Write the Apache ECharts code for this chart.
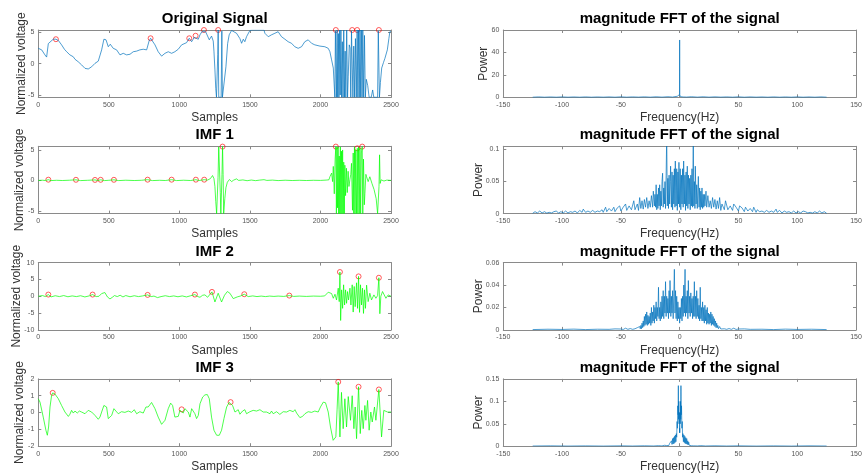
<!DOCTYPE html>
<html>
<head>
<meta charset="utf-8">
<script src="https://cdn.jsdelivr.net/npm/echarts@6/dist/echarts.min.js"></script>
<style>
  html, body { margin: 0; padding: 0; background: #ffffff; }
  #chart { width: 865px; height: 475px; }
</style>
</head>
<body>
<div id="chart"></div>
<script>
// ---------- tick labels and axis ranges ----------
const sampleTicks = [0, 500, 1000, 1500, 2000, 2500];
const freqTicks = [-150, -100, -50, 0, 50, 100, 150];
const origTicks = [-5, 0, 5];
const imf1Ticks = [-5, 0, 5];
const imf2Ticks = [-10, -5, 0, 5, 10];
const imf3Ticks = [-2, -1, 0, 1, 2];
const fftOrigTicks = [0, 20, 40, 60];
const fftImf1Ticks = [0, 0.05, 0.1];
const fftImf2Ticks = [0, 0.02, 0.04, 0.06];
const fftImf3Ticks = [0, 0.05, 0.1, 0.15];

const sampleRange = [0, 2500];
const freqRange = [-150, 150];
const origRange = [-5.37, 5.37];
const imf1Range = [-5.45, 5.6];
const imf2Range = [-10, 10];
const imf3Range = [-2, 2];
const fftOrigRange = [0, 60];
const fftImf1Range = [0, 0.105];
const fftImf2Range = [0, 0.06];
const fftImf3Range = [0, 0.15];

// ---------- time-domain signals: [sample, normalized voltage] ----------
const origSignal = [
  [0,2.45],[24,2.2],[47,1.4],[59,1.05],[65,1.3],[71,3.2],[83,3.5],[106,3.9],[125,3.9],[142,3.7],[165,3.0],[185,2.3],
  [201,1.9],[224,1.4],[235,1.6],[248,1.1],[260,0.7],[283,0.3],[307,-0.2],[331,-0.75],[354,-0.85],[378,-0.5],[402,0.05],
  [425,0.4],[437,0.3],[449,2.2],[465,3.9],[480,3.8],[496,2.7],[510,3.1],[520,3.0],[531,2.45],[555,2.2],[579,1.4],
  [602,1.65],[626,1.4],[650,1.5],[673,1.9],[697,2.0],[720,2.2],[744,2.3],[768,2.2],[785,3.6],[796,4.05],[803,3.8],
  [827,3.0],[850,1.9],[874,1.2],[898,1.65],[921,1.9],[945,1.65],[968,1.9],[992,2.3],[1016,3.0],[1027,2.7],[1051,3.35],
  [1070,4.05],[1087,3.5],[1105,4.2],[1115,4.45],[1134,3.9],[1146,4.6],[1160,5.1],[1174,5.37],[1186,5.1],[1193,4.85],
  [1212,3.8],[1220,4.0],[1228,4.4],[1240,3.6],[1245,2.0],[1252,-1.0],[1258,-4.0],[1263,-5.37],[1269,-5.37],[1272,1.5],
  [1275,5.37],[1279,-5.37],[1296,-5.37],[1301,5.2],[1305,-5.37],[1314,-5.37],[1330,-0.5],[1342,3.2],[1353,4.6],[1370,5.3],
  [1382,5.1],[1405,4.85],[1429,4.0],[1441,3.25],[1453,3.9],[1464,3.5],[1476,4.3],[1500,5.3],[1515,5.37],[1600,5.37],
  [1606,4.85],[1630,4.3],[1653,4.6],[1677,4.85],[1700,5.1],[1724,4.3],[1748,3.9],[1771,3.5],[1795,3.25],[1818,2.7],
  [1842,2.45],[1866,2.7],[1889,3.5],[1913,3.8],[1937,3.25],[1960,3.0],[1996,2.8],[2031,2.7],[2055,2.45],[2067,1.9],
  [2079,0.6],[2091,-0.7],[2102,-5.37],[2106,5.2],[2109,5.37],[2113,-5.37],[2118,5.37],[2122,-5.37],[2127,4.8],[2131,-5.37],
  [2136,5.37],[2140,-5.0],[2145,5.37],[2150,-5.37],[2155,3.5],[2160,-5.37],[2165,5.37],[2170,-5.37],[2175,2.0],[2180,-5.37],
  [2186,5.37],[2192,-5.37],[2197,-2.0],[2204,3.0],[2210,2.5],[2215,-5.37],[2220,5.2],[2225,5.37],[2230,-5.37],[2236,2.8],
  [2242,-5.37],[2248,4.0],[2254,-5.37],[2260,5.37],[2265,-5.37],[2270,5.37],[2275,-5.37],[2280,5.37],[2285,-5.37],
  [2290,5.37],[2295,-5.37],[2300,5.37],[2306,-5.37],[2312,4.5],[2318,-5.37],[2325,-2.5],[2335,-3.5],[2345,-5.37],
  [2360,-5.37],[2370,-4.2],[2378,-5.37],[2405,-5.37],[2410,5.2],[2414,5.37],[2418,-5.37],[2425,-3.0],[2434,-0.7],
  [2447,0.2],[2457,0.85],[2474,2.2],[2485,4.0],[2492,5.1],[2500,5.2]
];
const origPeaks = [[125,3.9],[796,4.05],[1070,4.05],[1115,4.45],[1174,5.37],[1275,5.37],[2109,5.37],[2225,5.37],[2260,5.37],[2414,5.37]];

const imf1Signal = [
  [0,0],[30,0.03],[50,-0.02],[71,0.12],[90,-0.03],[130,0.02],[170,-0.02],[220,0.03],[267,0.1],[300,-0.03],[350,0.02],
  [402,0.08],[420,-0.02],[442,0.1],[470,-0.03],[500,0.02],[536,0.1],[570,-0.03],[620,0.03],[680,-0.02],[730,0.02],
  [775,0.12],[810,-0.03],[860,0.02],[900,-0.02],[945,0.12],[980,-0.03],[1030,0.03],[1080,-0.02],[1117,0.12],[1140,-0.02],
  [1176,0.12],[1200,0.05],[1220,0.3],[1235,0.8],[1245,0.3],[1252,-1.0],[1258,-3.5],[1264,-5.45],[1269,-5.45],[1274,0.5],
  [1279,5.5],[1285,5.5],[1290,-2.0],[1294,-5.45],[1298,-5.45],[1302,1.0],[1306,5.55],[1310,1.0],[1314,-5.45],[1318,-5.45],
  [1322,-3.0],[1330,-1.2],[1340,-0.3],[1355,0.15],[1370,-0.2],[1385,0.05],[1405,0.25],[1420,0.0],[1450,0.08],[1480,-0.05],
  [1510,0.06],[1540,-0.04],[1570,0.05],[1600,0.12],[1620,0.0],[1660,0.05],[1700,-0.03],[1750,0.03],[1800,-0.02],
  [1850,0.02],[1900,-0.02],[1950,0.02],[2000,0.0],[2040,0.05],[2060,0.1],[2067,0.6],[2079,1.2],[2086,-0.2],[2091,2.3],
  [2098,-2.2],[2104,3.5],[2109,5.55],[2113,-5.45],[2117,5.5],[2121,-4.5],[2125,5.5],[2129,-5.45],[2133,4.0],[2137,-5.45],
  [2141,5.5],[2145,-5.45],[2149,4.8],[2153,-5.45],[2157,5.0],[2161,-5.45],[2165,3.0],[2169,-5.45],[2173,2.5],[2178,-2.5],
  [2184,2.0],[2190,-2.0],[2196,1.5],[2202,-1.0],[2209,0.2],[2215,1.0],[2220,2.8],[2227,-4.9],[2232,4.5],[2236,-5.45],
  [2241,5.5],[2245,-5.45],[2250,5.0],[2255,-5.45],[2261,5.27],[2265,-5.45],[2270,5.5],[2275,-5.45],[2280,5.3],[2285,-5.45],
  [2290,4.5],[2296,5.55],[2300,-5.45],[2305,3.5],[2311,-4.0],[2315,-2.2],[2322,1.0],[2327,0.6],[2338,-0.2],[2350,0.6],
  [2365,-0.5],[2380,-1.5],[2395,-3.0],[2405,-5.45],[2410,-5.45],[2415,-1.0],[2419,4.2],[2423,-0.5],[2430,0.1],[2450,-0.1],
  [2470,0.05],[2500,0.0]
];
const imf1Peaks = [[71,0.12],[267,0.1],[402,0.08],[442,0.1],[536,0.1],[775,0.12],[945,0.12],[1117,0.12],[1176,0.12],[1306,5.55],[2109,5.55],[2261,5.27],[2296,5.55]];

const imf2Signal = [
  [0,0],[30,0.2],[50,-0.1],[71,0.5],[90,-0.2],[120,0.15],[150,-0.1],[180,0.2],[210,-0.15],[240,0.1],[270,-0.1],[300,0.15],
  [330,-0.2],[360,0.1],[385,0.5],[410,-0.1],[430,0.0],[449,0.8],[472,1.1],[490,-0.2],[508,-0.8],[525,-0.3],[540,0.2],
  [560,-0.1],[580,0.3],[600,-0.2],[620,0.2],[650,-0.15],[680,0.15],[710,-0.1],[740,0.1],[775,0.4],[800,-0.1],[820,0.05],
  [845,-0.4],[870,-0.1],[900,0.15],[930,-0.1],[960,0.1],[990,-0.15],[1020,0.1],[1050,-0.2],[1080,0.15],[1110,0.5],
  [1130,-0.1],[1146,-0.3],[1165,0.3],[1181,0.4],[1200,-0.3],[1210,-0.8],[1231,1.3],[1252,-1.7],[1275,0.9],[1299,-1.7],
  [1320,0.3],[1340,1.4],[1358,0.9],[1382,-0.7],[1410,-0.2],[1435,0.1],[1460,0.6],[1488,-0.1],[1520,0.1],[1550,-0.1],
  [1580,0.05],[1610,-0.1],[1640,0.05],[1670,-0.05],[1700,0.05],[1740,-0.05],[1779,0.2],[1810,-0.05],[1850,0.05],
  [1900,-0.05],[1950,0.05],[2000,0.0],[2030,0.1],[2055,1.2],[2067,1.4],[2079,0.8],[2091,-0.6],[2103,0.6],[2114,-1.1],
  [2126,2.4],[2133,-1.6],[2138,7.2],[2143,-7.2],[2150,1.9],[2157,-3.6],[2164,3.4],[2171,-2.6],[2178,1.9],[2185,-2.1],
  [2192,1.4],[2199,-1.1],[2209,2.4],[2216,-2.6],[2225,3.4],[2232,-4.7],[2239,2.9],[2246,-3.1],[2256,4.0],[2263,-3.6],
  [2270,5.9],[2277,-4.8],[2284,3.4],[2291,-2.6],[2298,2.4],[2305,-5.1],[2312,1.9],[2319,-3.6],[2327,3.3],[2338,-1.6],
  [2350,0.9],[2362,-1.1],[2379,0.4],[2393,-0.6],[2405,0.2],[2414,5.5],[2421,-5.2],[2428,0.0],[2440,1.4],[2452,1.9],
  [2464,-0.6],[2480,0.4],[2500,0.0]
];
const imf2Peaks = [[71,0.5],[385,0.5],[775,0.4],[1110,0.5],[1231,1.3],[1460,0.6],[1779,0.2],[2138,7.2],[2270,5.9],[2414,5.5]];

const imf3Signal = [
  [0,0.82],[12,0.62],[35,-0.27],[54,-1.05],[64,-1.35],[73,-0.86],[83,0.33],[94,1.0],[102,1.17],[118,1.1],[142,0.82],
  [165,0.42],[189,0.03],[213,-0.23],[224,-0.1],[236,0.13],[248,-0.03],[260,0.09],[276,-0.03],[291,0.09],[307,0.03],
  [331,-0.07],[354,0.13],[378,0.03],[402,-0.17],[425,-0.4],[437,-0.27],[449,0.03],[465,0.42],[474,0.52],[484,0.33],
  [496,-0.36],[508,-0.46],[520,-0.17],[536,0.23],[550,0.09],[567,-0.07],[590,0.05],[614,0.01],[638,0.09],[661,0.01],
  [680,0.17],[697,-0.07],[720,0.05],[744,-0.03],[763,0.33],[779,0.33],[803,0.6],[827,0.23],[850,-0.27],[874,-0.7],
  [886,-0.72],[898,-0.46],[921,0.23],[938,0.56],[952,0.42],[968,-0.27],[980,-0.36],[992,-0.23],[1004,0.13],[1016,0.19],
  [1027,-0.03],[1039,0.23],[1051,0.28],[1063,0.03],[1075,-0.27],[1087,0.23],[1098,0.25],[1110,-0.07],[1122,-0.36],
  [1134,-0.17],[1146,0.52],[1165,0.92],[1181,1.05],[1198,1.07],[1212,0.82],[1228,-0.27],[1245,-1.05],[1264,-1.35],
  [1283,-1.35],[1299,-1.05],[1316,-0.36],[1335,0.33],[1353,0.6],[1363,0.62],[1377,0.42],[1394,0.03],[1405,-0.07],
  [1417,0.17],[1429,-0.1],[1448,0.09],[1464,0.17],[1476,-0.07],[1500,0.05],[1523,0.13],[1547,0.09],[1571,0.17],
  [1594,0.03],[1618,0.03],[1642,-0.07],[1653,0.09],[1665,-0.07],[1689,0.05],[1712,-0.11],[1736,0.05],[1760,0.03],
  [1783,0.13],[1807,0.05],[1819,0.17],[1831,-0.03],[1854,-0.3],[1873,-0.23],[1890,-0.07],[1913,0.05],[1937,0.01],
  [1960,0.09],[1984,0.03],[2000,0.33],[2020,0.62],[2036,0.58],[2055,0.03],[2071,-0.86],[2090,-1.65],[2100,-1.76],
  [2109,-1.45],[2118,0.2],[2126,1.82],[2132,0.2],[2138,-1.45],[2149,1.2],[2161,-0.96],[2173,0.82],[2185,-0.86],
  [2197,0.95],[2213,-0.46],[2225,1.0],[2237,-0.96],[2246,0.33],[2256,-1.55],[2270,1.53],[2282,-1.25],[2293,0.13],
  [2303,-0.96],[2315,0.42],[2322,-0.46],[2334,0.72],[2345,-1.05],[2357,0.03],[2367,-0.56],[2383,0.33],[2393,-0.46],
  [2414,1.37],[2433,-1.45],[2449,0.13],[2461,0.23],[2475,0.03],[2500,0.03]
];
const imf3Peaks = [[102,1.17],[1016,0.19],[1363,0.62],[2126,1.82],[2270,1.53],[2414,1.37]];

// ---------- magnitude spectra: [frequency Hz, power] ----------
const fftOrig = [
  [-125,0.1],[-120,0.35],[-115,0.1],[-110,0.3],[-105,0.1],[-100,0.35],[-95,0.1],[-90,0.3],[-85,0.1],[-80,0.35],
  [-75,0.1],[-70,0.3],[-65,0.12],[-60,0.35],[-55,0.1],[-50,0.4],[-45,0.12],[-40,0.35],[-35,0.15],[-30,0.4],[-25,0.12],
  [-20,0.45],[-15,0.15],[-10,0.5],[-6,0.2],[-4,0.6],[-3,0.3],[-2,0.9],[-1.5,0.4],[-1,1.3],[-0.6,0.6],[-0.3,1.8],
  [-0.1,2.5],[0,51.1],[0.1,2.5],[0.3,1.8],[0.6,0.6],[1,1.3],[1.5,0.4],[2,0.9],[3,0.3],[4,0.6],[6,0.2],[10,0.5],
  [15,0.15],[20,0.45],[25,0.12],[30,0.4],[35,0.15],[40,0.35],[45,0.12],[50,0.4],[55,0.1],[60,0.35],[65,0.12],[70,0.3],
  [75,0.1],[80,0.35],[85,0.1],[90,0.3],[95,0.1],[100,0.35],[105,0.1],[110,0.3],[115,0.1],[120,0.35],[125,0.1]
];

const fftImf1 = [
  [-125,0.0005],[-123,0.003],[-121,0.001],[-119,0.004],[-117,0.001],[-115,0.003],[-113,0.0008],[-111,0.002],[-109,0.001],
  [-107,0.003],[-105,0.004],[-103,0.001],[-101,0.003],[-99,0.001],[-97,0.004],[-95,0.001],[-93,0.003],[-91,0.002],
  [-89,0.004],[-87,0.001],[-85,0.005],[-83,0.002],[-82,0.007],[-80,0.002],[-78,0.004],[-76,0.002],[-74,0.005],[-72,0.002],
  [-70,0.004],[-68,0.003],[-66,0.006],[-65,0.002],[-63,0.01],[-62,0.003],[-60,0.008],[-58,0.004],[-56,0.01],[-55,0.003],
  [-53,0.009],[-51,0.012],[-50,0.004],[-48,0.01],[-46,0.015],[-45,0.005],[-43,0.012],[-41,0.006],[-39,0.02],[-38,0.006],
  [-36,0.015],[-35,0.005],[-34,0.025],[-33,0.008],[-32,0.02],[-31,0.007],[-30,0.022],[-29,0.01],[-28,0.025],[-27,0.008],
  [-26,0.02],[-25,0.01],[-24,0.028],[-23,0.01],[-22.4,0.035],[-21.5,0.012],[-21,0.03],[-20.5,0.01],[-20,0.045],
  [-19.5,0.006],[-19,0.03],[-18.5,0.008],[-18,0.04],[-17.5,0.012],[-17,0.045],[-16.5,0.006],[-16,0.035],[-15.5,0.012],
  [-15,0.05],[-14.5,0.063],[-14,0.01],[-13.5,0.04],[-13,0.015],[-12.5,0.05],[-12,0.008],[-11.5,0.06],[-11,0.12],
  [-10.5,0.012],[-10,0.055],[-9.5,0.008],[-9,0.06],[-8.5,0.015],[-8,0.05],[-7.7,0.074],[-7,0.01],[-6.5,0.065],[-6,0.006],
  [-5.5,0.06],[-5,0.015],[-4.5,0.07],[-4,0.01],[-3.7,0.082],[-3,0.012],[-2.5,0.07],[-2,0.005],[-1.5,0.065],[-1,0.015],
  [-0.6,0.08],[0,0.01],[0.5,0.07],[1,0.006],[1.5,0.06],[2,0.015],[2.5,0.07],[3,0.01],[3.4,0.082],[4,0.015],[4.5,0.06],
  [5,0.005],[5.5,0.065],[6,0.012],[6.5,0.074],[7,0.008],[7.5,0.06],[8,0.015],[8.5,0.055],[9,0.006],[9.5,0.06],[10,0.012],
  [10.5,0.07],[11,0.01],[11.6,0.12],[12,0.012],[12.5,0.05],[13,0.008],[13.3,0.074],[14,0.015],[14.5,0.045],[15,0.008],
  [15.9,0.058],[16.5,0.01],[17,0.04],[17.5,0.006],[18,0.035],[18.5,0.01],[19,0.04],[19.5,0.008],[20,0.03],[20.5,0.01],
  [21,0.03],[21.5,0.012],[22.4,0.035],[23,0.01],[24,0.028],[25,0.01],[26,0.02],[27,0.008],[28,0.025],[29,0.01],[30,0.022],
  [31,0.007],[32,0.02],[33,0.008],[34,0.025],[35,0.005],[36,0.015],[38,0.006],[39,0.02],[41,0.006],[43,0.012],[45,0.005],
  [46,0.015],[48,0.01],[50,0.004],[51,0.012],[53,0.009],[55,0.003],[56,0.01],[58,0.004],[60,0.008],[62,0.003],[63,0.01],
  [65,0.002],[66,0.006],[68,0.003],[70,0.004],[72,0.002],[74,0.005],[76,0.002],[78,0.004],[80,0.002],[82,0.007],
  [83,0.002],[85,0.005],[87,0.001],[89,0.004],[91,0.002],[93,0.003],[95,0.001],[97,0.004],[99,0.001],[101,0.003],
  [103,0.001],[105,0.004],[107,0.003],[109,0.001],[111,0.002],[113,0.0008],[115,0.003],[117,0.001],[119,0.004],
  [121,0.001],[123,0.003],[125,0.0005]
];

const fftImf2 = [
  [-125,0.0003],[-112,0.0006],[-100,0.0004],[-90,0.0007],[-80,0.0003],[-70,0.0006],[-60,0.0005],[-55,0.0009],[-50,0.0008],
  [-48,0.0004],[-46,0.0015],[-44,0.0005],[-42,0.0012],[-40,0.0005],[-38,0.001],[-36,0.002],[-35,0.0008],[-34,0.003],
  [-33.5,0.001],[-33,0.004],[-32.5,0.001],[-32,0.006],[-31.5,0.002],[-31,0.008],[-30.5,0.003],[-30,0.012],[-29.5,0.004],
  [-29,0.014],[-28.5,0.005],[-28,0.016],[-27.5,0.004],[-27,0.013],[-26.5,0.005],[-26,0.012],[-25.5,0.006],[-25,0.015],
  [-24.5,0.004],[-24,0.02],[-23.5,0.006],[-23,0.016],[-22.5,0.008],[-22,0.022],[-21.5,0.006],[-21,0.02],[-20.5,0.01],
  [-20,0.025],[-19.5,0.008],[-19,0.02],[-18.5,0.012],[-18,0.038],[-17.5,0.01],[-17,0.02],[-16.5,0.008],[-16,0.025],
  [-15.5,0.01],[-15,0.03],[-14.5,0.012],[-14,0.035],[-13.5,0.01],[-13,0.03],[-12.5,0.015],[-12,0.043],[-11.5,0.012],
  [-11,0.03],[-10.5,0.015],[-10,0.028],[-9.5,0.01],[-9,0.035],[-8.5,0.015],[-8.2,0.044],[-7.5,0.012],[-7,0.03],
  [-6.5,0.015],[-6,0.035],[-5.5,0.01],[-5,0.03],[-4.5,0.054],[-4,0.015],[-3.5,0.035],[-3,0.01],[-2.5,0.03],[-2,0.008],
  [-1.5,0.025],[-1,0.01],[-0.5,0.02],[0,0.006],[0.5,0.02],[1,0.01],[1.5,0.028],[2,0.008],[2.5,0.03],[3,0.012],[3.5,0.04],
  [4,0.015],[4.6,0.054],[5,0.012],[5.5,0.03],[6,0.015],[6.5,0.035],[7,0.01],[7.4,0.044],[8,0.015],[8.5,0.03],[9,0.012],
  [9.5,0.033],[10,0.015],[10.5,0.028],[11,0.01],[11.5,0.03],[12,0.012],[12.5,0.043],[13,0.012],[13.5,0.03],[14,0.01],
  [14.5,0.035],[15,0.012],[15.5,0.028],[16,0.01],[16.5,0.022],[17,0.008],[17.5,0.038],[18,0.01],[18.5,0.02],[19,0.008],
  [19.5,0.025],[20,0.008],[20.5,0.02],[21,0.006],[21.5,0.022],[22,0.008],[22.5,0.018],[23,0.005],[23.5,0.02],[24,0.006],
  [24.5,0.015],[25,0.005],[25.5,0.014],[26,0.006],[26.5,0.016],[27,0.004],[27.5,0.014],[28,0.005],[28.5,0.012],[29,0.004],
  [29.5,0.01],[30,0.003],[30.5,0.008],[31,0.002],[31.5,0.006],[32,0.002],[32.5,0.004],[33,0.001],[34,0.003],[35,0.0008],
  [36,0.002],[38,0.001],[40,0.0005],[42,0.0012],[44,0.0005],[46,0.0015],[48,0.0004],[50,0.0008],[55,0.0009],[60,0.0005],
  [70,0.0006],[80,0.0003],[90,0.0007],[100,0.0004],[112,0.0006],[125,0.0003]
];

const fftImf3 = [
  [-125,0.0004],[-110,0.0008],[-95,0.0003],[-80,0.0007],[-65,0.0003],[-50,0.0008],[-40,0.0004],[-30,0.0009],[-22,0.0005],
  [-18,0.0012],[-15,0.0006],[-13,0.002],[-12,0.0008],[-11,0.0015],[-10.2,0.001],[-9.7,0.004],[-9.2,0.0015],[-8.6,0.006],
  [-8.2,0.002],[-7.7,0.009],[-7.3,0.003],[-6.9,0.012],[-6.5,0.004],[-6,0.017],[-5.6,0.005],[-5.2,0.019],[-4.8,0.006],
  [-4.4,0.022],[-4,0.008],[-3.6,0.025],[-3.2,0.01],[-2.8,0.028],[-2.5,0.02],[-2.2,0.055],[-1.9,0.04],[-1.6,0.09],
  [-1.3,0.07],[-1.1,0.135],[-0.9,0.06],[-0.7,0.1],[-0.5,0.05],[-0.3,0.075],[-0.1,0.03],[0,0.04],[0.1,0.03],[0.3,0.075],
  [0.5,0.05],[0.7,0.1],[0.9,0.06],[1.1,0.135],[1.3,0.07],[1.6,0.09],[1.9,0.04],[2.2,0.055],[2.5,0.02],[2.8,0.028],
  [3.2,0.01],[3.6,0.025],[4,0.008],[4.4,0.022],[4.8,0.006],[5.2,0.019],[5.6,0.005],[6,0.017],[6.5,0.004],[6.9,0.012],
  [7.3,0.003],[7.7,0.009],[8.2,0.002],[8.6,0.006],[9.2,0.0015],[9.7,0.004],[10.2,0.001],[11,0.0015],[12,0.0008],
  [13,0.002],[15,0.0006],[18,0.0012],[22,0.0005],[30,0.0009],[40,0.0004],[50,0.0008],[65,0.0003],[80,0.0007],
  [95,0.0003],[110,0.0008],[125,0.0004]
];

// ---------- styling and layout ----------
const FONT = '"Liberation Sans", Arial, Helvetica, sans-serif';
const BLUE = '#0072BD';
const GREEN = '#00FF00';
const FRAME = '#8a8a8a';
const TICK_TEXT = '#555555';
const NAME_TEXT = '#333333';
const COL_LEFT = [38.3, 503.3];
const ROW_TOP = [30, 146.3, 262.6, 378.9];
const PLOT_W = 352.7;
const PLOT_H = 67.3;

const panels = [
  { title: 'Original Signal', col: 0, row: 0, data: origSignal, peaks: origPeaks, color: BLUE, yNameX: 21.5,
    xr: sampleRange, xt: sampleTicks, yr: origRange, yt: origTicks, xName: 'Samples', yName: 'Normalized voltage' },
  { title: 'magnitude FFT of the signal', col: 1, row: 0, data: fftOrig, color: BLUE, yNameX: 484,
    xr: freqRange, xt: freqTicks, yr: fftOrigRange, yt: fftOrigTicks, xName: 'Frequency(Hz)', yName: 'Power' },
  { title: 'IMF 1', col: 0, row: 1, data: imf1Signal, peaks: imf1Peaks, color: GREEN, yNameX: 19.5,
    xr: sampleRange, xt: sampleTicks, yr: imf1Range, yt: imf1Ticks, xName: 'Samples', yName: 'Normalized voltage' },
  { title: 'magnitude FFT of the signal', col: 1, row: 1, data: fftImf1, color: BLUE, yNameX: 479,
    xr: freqRange, xt: freqTicks, yr: fftImf1Range, yt: fftImf1Ticks, xName: 'Frequency(Hz)', yName: 'Power' },
  { title: 'IMF 2', col: 0, row: 2, data: imf2Signal, peaks: imf2Peaks, color: GREEN, yNameX: 17,
    xr: sampleRange, xt: sampleTicks, yr: imf2Range, yt: imf2Ticks, xName: 'Samples', yName: 'Normalized voltage' },
  { title: 'magnitude FFT of the signal', col: 1, row: 2, data: fftImf2, color: BLUE, yNameX: 479,
    xr: freqRange, xt: freqTicks, yr: fftImf2Range, yt: fftImf2Ticks, xName: 'Frequency(Hz)', yName: 'Power' },
  { title: 'IMF 3', col: 0, row: 3, data: imf3Signal, peaks: imf3Peaks, color: GREEN, yNameX: 20,
    xr: sampleRange, xt: sampleTicks, yr: imf3Range, yt: imf3Ticks, xName: 'Samples', yName: 'Normalized voltage' },
  { title: 'magnitude FFT of the signal', col: 1, row: 3, data: fftImf3, color: BLUE, yNameX: 479,
    xr: freqRange, xt: freqTicks, yr: fftImf3Range, yt: fftImf3Ticks, xName: 'Frequency(Hz)', yName: 'Power' }
];

const grid = [], xAxis = [], yAxis = [], series = [], graphic = [];

// plain number text, no thousands separators
const plainNumber = (v) => String(Math.round(v * 1e6) / 1e6);

function frameAxis(extra, range, ticks, withLabels) {
  return Object.assign({
    type: 'value',
    min: range[0],
    max: range[1],
    axisLine: { show: true, onZero: false, lineStyle: { color: FRAME, width: 1 } },
    axisTick: { show: true, inside: true, length: 3, customValues: ticks, lineStyle: { color: FRAME, width: 1 } },
    axisLabel: withLabels ? {
      show: true, customValues: ticks, fontSize: 7, color: TICK_TEXT, fontFamily: FONT,
      formatter: plainNumber, showMinLabel: true, showMaxLabel: true, hideOverlap: false
    } : { show: false },
    splitLine: { show: false },
    axisPointer: { show: false }
  }, extra);
}

panels.forEach((p, i) => {
  const left = COL_LEFT[p.col];
  const top = ROW_TOP[p.row];
  grid.push({ left: left, top: top, width: PLOT_W, height: PLOT_H, containLabel: false, outerBoundsMode: 'none' });

  const xb = frameAxis({ gridIndex: i, position: 'bottom' }, p.xr, p.xt, true);
  xb.axisLabel.margin = 4;
  xAxis.push(xb);
  xAxis.push(frameAxis({ gridIndex: i, position: 'top' }, p.xr, p.xt, false));
  const yl = frameAxis({ gridIndex: i, position: 'left' }, p.yr, p.yt, true);
  yl.axisLabel.margin = 4;
  yAxis.push(yl);
  yAxis.push(frameAxis({ gridIndex: i, position: 'right' }, p.yr, p.yt, false));

  series.push({
    type: 'line', xAxisIndex: 2 * i, yAxisIndex: 2 * i, data: p.data,
    symbol: 'none', showSymbol: false, clip: true, silent: true,
    lineStyle: { color: p.color, width: 0.7 }
  });
  if (p.peaks) {
    series.push({
      type: 'scatter', xAxisIndex: 2 * i, yAxisIndex: 2 * i, data: p.peaks,
      symbol: 'circle', symbolSize: 5, clip: false, silent: true,
      itemStyle: { color: 'rgba(255,255,255,0)', borderColor: '#ff0000', borderWidth: 0.8 }
    });
  }

  const cx = left + PLOT_W / 2;
  graphic.push({
    type: 'text', x: cx, y: top - 11, silent: true,
    style: { text: p.title, fontSize: 15, fontWeight: 'bold', fontFamily: FONT, fill: '#000000', align: 'center', verticalAlign: 'middle' }
  });
  graphic.push({
    type: 'text', x: cx, y: top + PLOT_H + 20.5, silent: true,
    style: { text: p.xName, fontSize: 12, fontFamily: FONT, fill: NAME_TEXT, align: 'center', verticalAlign: 'middle' }
  });
  graphic.push({
    type: 'text', x: p.yNameX, y: top + PLOT_H / 2, rotation: Math.PI / 2, silent: true,
    style: { text: p.yName, fontSize: 12, fontFamily: FONT, fill: NAME_TEXT, align: 'center', verticalAlign: 'middle' }
  });
});

const chart = echarts.init(document.getElementById('chart'), null, { renderer: 'canvas', width: 865, height: 475, devicePixelRatio: 1 });
chart.setOption({
  animation: false,
  backgroundColor: '#ffffff',
  grid: grid,
  xAxis: xAxis,
  yAxis: yAxis,
  series: series,
  graphic: graphic
});
</script>
</body>
</html>
